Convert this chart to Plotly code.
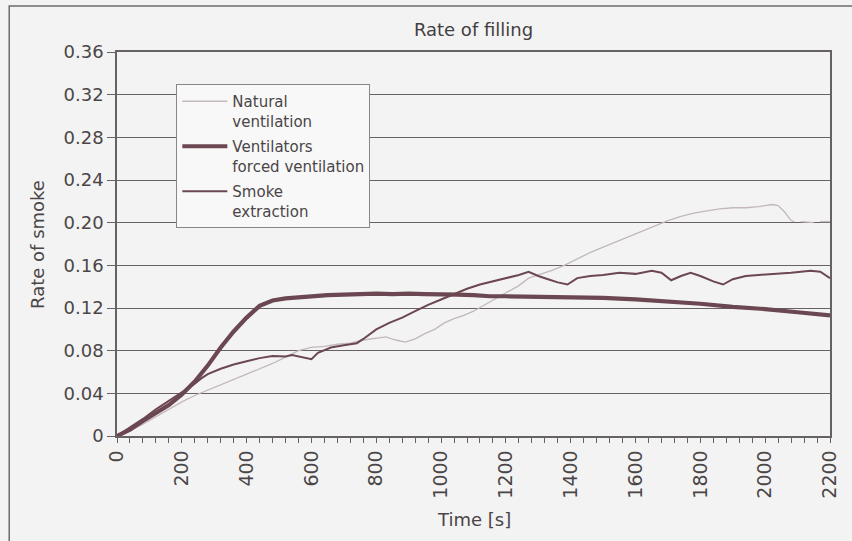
import plotly.graph_objects as go

# ---------------- data ----------------
NAT_T = [0, 40, 80, 120, 160, 200, 240, 280, 320, 360, 400, 440, 480, 520, 560, 600, 640, 680,
         720, 760, 800, 830, 860, 890, 920, 950, 980, 1010, 1040, 1070, 1100, 1130, 1160, 1200,
         1240, 1270, 1300, 1340, 1380, 1420, 1460, 1500, 1540, 1580, 1620, 1660, 1700, 1740,
         1780, 1820, 1860, 1900, 1940, 1980, 2020, 2040, 2060, 2080, 2090, 2100, 2110, 2150,
         2160, 2170, 2200]
NAT_V = [0, 0.005, 0.011, 0.018, 0.025, 0.032, 0.038, 0.043, 0.048, 0.053, 0.058, 0.063, 0.068,
         0.074, 0.080, 0.083, 0.084, 0.086, 0.087, 0.090, 0.092, 0.093, 0.090, 0.088, 0.091,
         0.096, 0.100, 0.106, 0.110, 0.113, 0.117, 0.122, 0.127, 0.134, 0.141, 0.148, 0.151,
         0.155, 0.160, 0.166, 0.172, 0.177, 0.182, 0.187, 0.192, 0.197, 0.202, 0.206, 0.209,
         0.211, 0.213, 0.214, 0.214, 0.215, 0.217, 0.216, 0.210, 0.202, 0.201, None, 0.201,
         0.200, None, 0.201, 0.201]

FORCED_T = [0, 40, 80, 120, 160, 200, 240, 280, 320, 360, 400, 440, 480, 520, 560, 600, 650,
            700, 750, 800, 850, 900, 950, 1000, 1050, 1100, 1150, 1200, 1300, 1400, 1500, 1600,
            1700, 1800, 1900, 2000, 2100, 2200]
FORCED_V = [0, 0.006, 0.014, 0.021, 0.029, 0.039, 0.051, 0.066, 0.083, 0.098, 0.111, 0.122,
            0.127, 0.129, 0.130, 0.131, 0.132, 0.1325, 0.133, 0.1335, 0.133, 0.1335, 0.133,
            0.133, 0.1325, 0.132, 0.131, 0.131, 0.1305, 0.130, 0.1295, 0.128, 0.126, 0.124,
            0.121, 0.119, 0.116, 0.113]

SMOKE_T = [0, 40, 80, 120, 160, 200, 240, 260, 280, 320, 360, 400, 440, 480, 520, 540, 580,
           600, 620, 660, 700, 740, 760, 800, 840, 880, 920, 960, 1000, 1040, 1080, 1120, 1160,
           1200, 1240, 1270, 1300, 1330, 1360, 1390, 1420, 1460, 1500, 1550, 1600, 1650, 1680,
           1710, 1740, 1770, 1800, 1840, 1870, 1900, 1940, 1980, 2030, 2080, 2140, 2170, 2200]
SMOKE_V = [0, 0.008, 0.016, 0.025, 0.033, 0.041, 0.049, 0.054, 0.058, 0.063, 0.067, 0.070,
           0.073, 0.075, 0.0745, 0.076, 0.073, 0.072, 0.078, 0.083, 0.085, 0.087, 0.091, 0.100,
           0.106, 0.111, 0.117, 0.123, 0.128, 0.133, 0.138, 0.142, 0.145, 0.148, 0.151, 0.154,
           0.150, 0.147, 0.144, 0.142, 0.148, 0.150, 0.151, 0.153, 0.152, 0.155, 0.153, 0.146,
           0.150, 0.153, 0.150, 0.145, 0.142, 0.147, 0.150, 0.151, 0.152, 0.153, 0.155, 0.154,
           0.148]

X_TICKS = [0, 200, 400, 600, 800, 1000, 1200, 1400, 1600, 1800, 2000, 2200]
X_TICK_LABELS = ["0", "200", "400", "600", "800", "1000", "1200", "1400", "1600", "1800",
                 "2000", "2200"]
Y_TICKS = [0, 0.04, 0.08, 0.12, 0.16, 0.20, 0.24, 0.28, 0.32, 0.36]
Y_TICK_LABELS = ["0", "0.04", "0.08", "0.12", "0.16", "0.20", "0.24", "0.28", "0.32", "0.36"]

# ---------------- style ----------------
FONT = "DejaVu Sans, Arial, sans-serif"
TXT = "#4a4647"
GRID = "#666163"
DARK = "#6b4751"
LIGHT = "#c2b8bb"
BG = "#f4f3f3"

W, H = 852, 541
ML, MR, MT, MB = 117, 14, 52, 105
PW, PH = W - ML - MR, H - MT - MB

def px_x(p):
    return (p - ML) / PW

def px_y(p):
    return (H - MB - p) / PH

fig = go.Figure()
fig.add_trace(go.Scatter(x=NAT_T, y=NAT_V, mode="lines", name="Natural<br>ventilation",
                         legendgroup="a", line=dict(color=LIGHT, width=1.3), connectgaps=False))
fig.add_trace(go.Scatter(x=FORCED_T, y=FORCED_V, mode="lines",
                         name="Ventilators<br>forced ventilation", legendgroup="b",
                         line=dict(color=DARK, width=4.2)))
fig.add_trace(go.Scatter(x=SMOKE_T, y=SMOKE_V, mode="lines", name="Smoke<br>extraction",
                         legendgroup="c", line=dict(color=DARK, width=2)))

fig.update_layout(
    width=W, height=H,
    margin=dict(l=ML, r=MR, t=MT, b=MB),
    paper_bgcolor=BG, plot_bgcolor=BG,
    font=dict(family=FONT, color=TXT, size=16),
    title=dict(text="Rate of filling", x=0.5, xref="paper", xanchor="center",
               y=1 - 30 / H, yref="container", yanchor="middle",
               font=dict(size=18, color="#433f41", family=FONT)),
    showlegend=True,
    legend=dict(x=px_x(177), y=px_y(84), xanchor="left", yanchor="top",
                bgcolor="#f8f8f8", bordercolor="#8a8587", borderwidth=1,
                font=dict(size=15, color=TXT, family=FONT), valign="top",
                tracegroupgap=3, itemwidth=45),
    xaxis=dict(range=[0, 2200], tickvals=X_TICKS, ticktext=X_TICK_LABELS, tickangle=-90,
               ticks="outside", ticklen=5, tickcolor=GRID, tickwidth=1,
               minor=dict(dtick=40, ticks="outside", ticklen=5, tickcolor=GRID, tickwidth=1),
               showgrid=False, zeroline=False, showline=True, linecolor=GRID, linewidth=1.5,
               mirror=True, tickfont=dict(size=19, family=FONT, color=TXT)),
    yaxis=dict(range=[0, 0.36], tickvals=Y_TICKS, ticktext=Y_TICK_LABELS,
               ticks="outside", ticklen=8, tickcolor=GRID, tickwidth=1,
               showgrid=True, gridcolor=GRID, gridwidth=1, zeroline=False,
               showline=True, linecolor=GRID, linewidth=1.5, mirror=True,
               tickfont=dict(size=18, family=FONT, color=TXT)),
    annotations=[
        dict(text="Time [s]", xref="paper", yref="paper", x=0.5, y=px_y(519),
             xanchor="center", yanchor="middle", showarrow=False,
             font=dict(size=18, family=FONT, color=TXT)),
        dict(text="Rate of smoke", xref="paper", yref="paper", x=px_x(36), y=0.5,
             xanchor="center", yanchor="middle", showarrow=False, textangle=-90,
             font=dict(size=18, family=FONT, color=TXT)),
    ],
    shapes=[dict(type="rect", xref="paper", yref="paper", x0=px_x(8), x1=px_x(870),
                 y0=px_y(560), y1=px_y(6), line=dict(color="#6f6a6c", width=1.5),
                 fillcolor="rgba(0,0,0,0)", layer="below")],
)

fig.write_html("out.html")
